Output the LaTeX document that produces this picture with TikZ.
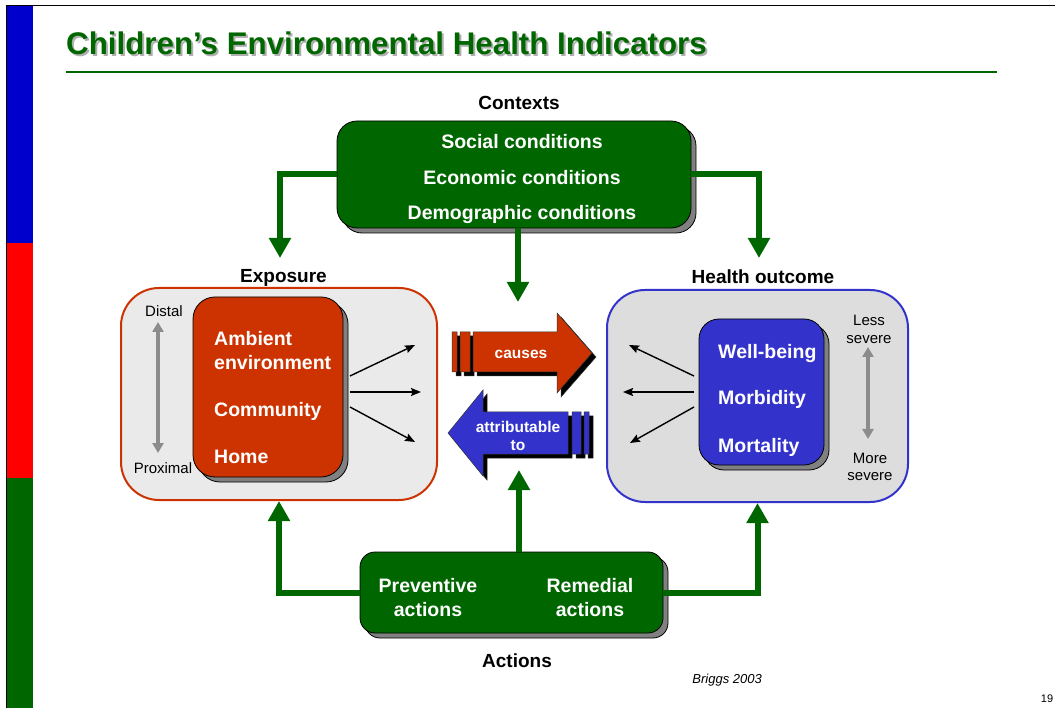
\documentclass[tikz,border=0pt]{standalone}
\usepackage{fontspec}
\setmainfont{Liberation Sans}
\usetikzlibrary{arrows.meta,shadows}
\definecolor{dgreen}{RGB}{0,102,0}
\definecolor{ored}{RGB}{204,51,0}
\definecolor{pblue}{RGB}{51,51,204}
\definecolor{barblue}{RGB}{0,0,204}
\definecolor{barred}{RGB}{255,0,0}
\definecolor{lgray}{RGB}{234,234,234}
\definecolor{mgray}{RGB}{221,221,221}
\definecolor{sgray}{RGB}{128,128,128}
\definecolor{agray}{RGB}{140,140,140}
\definecolor{tshadow}{RGB}{175,175,175}
\begin{document}
\begin{tikzpicture}[x=1pt,y=-1pt,
  lbl/.style={font=\fontsize{19}{22}\selectfont\bfseries, anchor=base, inner sep=0pt},
  wtxt/.style={font=\fontsize{19.5}{22}\selectfont\bfseries, text=white, anchor=base, inner sep=0pt},
  wleft/.style={wtxt, anchor=base west},
  arrtxt/.style={font=\fontsize{15.5}{17}\selectfont\bfseries, text=white, anchor=base, inner sep=0pt},
  small/.style={font=\fontsize{15}{17}\selectfont, anchor=base, inner sep=0pt},
  shbox/.style={draw=black, line width=0.8pt, rounded corners=#1, inner sep=0pt,
     general shadow={shadow xshift=5pt, shadow yshift=-5pt, fill=sgray, draw=black, line width=0.8pt}},
  shbox/.default=18pt,
  outerbox/.style={line width=2pt, rounded corners=38pt, inner sep=0pt, minimum height=212pt},
  gconn/.style={draw=dgreen, line width=6pt, line join=miter, -{Triangle[length=20pt,width=21pt]}},
  tconn/.style={draw=black, line width=1.4pt, -{Stealth[length=10pt,width=8pt,inset=1.5pt]}},
  scale2/.style={draw=agray, line width=4pt, {Triangle[length=10pt,width=11pt]}-{Triangle[length=10pt,width=11pt]}}
]
\useasboundingbox (0,0) rectangle (1055,708);
% frame and side bar
\fill[barblue] (6,6) rectangle (33,243);
\fill[barred] (6,243) rectangle (33,478);
\fill[dgreen] (6,478) rectangle (33,708);
\draw[black, line width=1pt] (6,708) -- (6,6) -- (1055,6);

% title
\node[font=\fontsize{31.3}{36}\selectfont\bfseries, text=tshadow, anchor=base west, inner sep=0pt] (titlesh) at (68,57) {Children\char39 s Environmental Health Indicators};
\node[font=\fontsize{31.3}{36}\selectfont\bfseries, text=dgreen, anchor=base west, inner sep=0pt] (title) at (66,55) {Children\char39 s Environmental Health Indicators};
\draw[dgreen, line width=2pt] (66,72) -- (997,72);

% contexts
\node[lbl] (ctxlbl) at (519,110) {Contexts};
\node[shbox=20pt, fill=dgreen, minimum width=354pt, minimum height=107pt] (ctx) at (514,174.5) {};
\node[wtxt] (c1) at (522,149) {Social conditions};
\node[wtxt] (c2) at (522,185) {Economic conditions};
\node[wtxt] (c3) at (522,220) {Demographic conditions};

% exposure
\node[lbl] (explbl) at (283.5,283) {Exposure};
\node[outerbox, draw=ored, fill=lgray, minimum width=316pt] (exp) at (279,394) {};
\node[shbox=22pt, fill=ored, minimum width=150pt, minimum height=180pt] (red) at (268,387) {};
\node[wleft] (e1) at (214,345.5) {Ambient};
\node[wleft] (e2) at (214,370) {environment};
\node[wleft] (e3) at (214,416.5) {Community};
\node[wleft] (e4) at (214,463.5) {Home};
\node[small] (distal) at (164,316.5) {Distal};
\node[small] (proximal) at (163,473.5) {Proximal};
\coordinate (dtop) at (158,322);
\coordinate (dbot) at (158,453);
\draw[scale2] (dtop) -- (dbot);

% health outcome
\node[lbl] (holbl) at (763,284) {Health outcome};
\node[outerbox, draw=pblue, fill=mgray, minimum width=301pt] (ho) at (757.5,396) {};
\node[shbox=20pt, fill=pblue, minimum width=125pt, minimum height=146pt] (blue) at (761.5,392) {};
\node[wleft] (h1) at (718,359) {Well-being};
\node[wleft] (h2) at (718,405) {Morbidity};
\node[wleft] (h3) at (718,452) {Mortality};
\node[small] (less1) at (869,326) {Less};
\node[small] (less2) at (869,343.5) {severe};
\node[small] (more1) at (870,463) {More};
\node[small] (more2) at (870,480.5) {severe};
\coordinate (stop) at (868,347);
\coordinate (sbot) at (868,439);
\draw[scale2] (stop) -- (sbot);

% thin arrows exposure
\coordinate (ea1) at (350,376); \coordinate (eb1) at (415,345);
\coordinate (ea2) at (350,392); \coordinate (eb2) at (421,392);
\coordinate (ea3) at (350,407); \coordinate (eb3) at (415,442);
\draw[tconn] (ea1) -- (eb1);
\draw[tconn] (ea2) -- (eb2);
\draw[tconn] (ea3) -- (eb3);
% thin arrows health
\coordinate (ha1) at (694,376); \coordinate (hb1) at (629,345);
\coordinate (ha2) at (694,392); \coordinate (hb2) at (623,392);
\coordinate (ha3) at (694,407); \coordinate (hb3) at (630,443);
\draw[tconn] (ha1) -- (hb1);
\draw[tconn] (ha2) -- (hb2);
\draw[tconn] (ha3) -- (hb3);

% causes arrow
\foreach \d/\c in {4/black,0/ored}{
  \filldraw[fill=\c, draw=black!80, line width=0.5pt, shift={(\d,\d)}]
    (452,332) rectangle (457,372)
    (460,332) rectangle (470,372)
    (473,332) -- (557,332) -- (557,313) -- (592,353) -- (557,393) -- (557,372) -- (473,372) -- cycle;
}
\node[arrtxt] (causes) at (521,359) {causes};
% attributable arrow
\foreach \d/\c in {4/black,0/pblue}{
  \filldraw[fill=\c, draw=black!80, line width=0.5pt, shift={(\d,\d)}]
    (448,433) -- (483,390) -- (483,412) -- (568,412) -- (568,454) -- (483,454) -- (483,476) -- cycle
    (572,412) rectangle (581,454)
    (584,412) rectangle (589,454);
}
\node[arrtxt] (attr1) at (518,432) {attributable};
\node[arrtxt] (attr2) at (518,450) {to};

% actions
\node[shbox=15pt, fill=dgreen, minimum width=303pt, minimum height=81pt] (act) at (511.5,592.5) {};
\node[wtxt] (a1) at (428,592.5) {Preventive};
\node[wtxt] (a2) at (428,616.5) {actions};
\node[wtxt] (a3) at (590,592.5) {Remedial};
\node[wtxt] (a4) at (590,616.5) {actions};
\node[lbl] (actlbl) at (517,667) {Actions};
\node[font=\fontsize{13}{15}\selectfont\itshape, anchor=base east, inner sep=0pt] (src) at (762,683) {Briggs 2003};
\node[font=\fontsize{11}{13}\selectfont, anchor=base, inner sep=0pt] (pg) at (1047,702) {19};

% green connectors
\coordinate (cl) at (280,258);
\coordinate (cr) at (759,258);
\coordinate (cm) at (518,302);
\coordinate (mb) at (519,470);
\draw[gconn] (ctx.west) -| (cl);
\draw[gconn] (ctx.east) -| (cr);
\draw[gconn] (ctx.south -| cm) -- (cm);
\draw[gconn] (act.west) -| (exp.south);
\draw[gconn] (act.east) -| (ho.south);
\draw[gconn] (act.north -| mb) -- (mb);
\end{tikzpicture}
\end{document}
